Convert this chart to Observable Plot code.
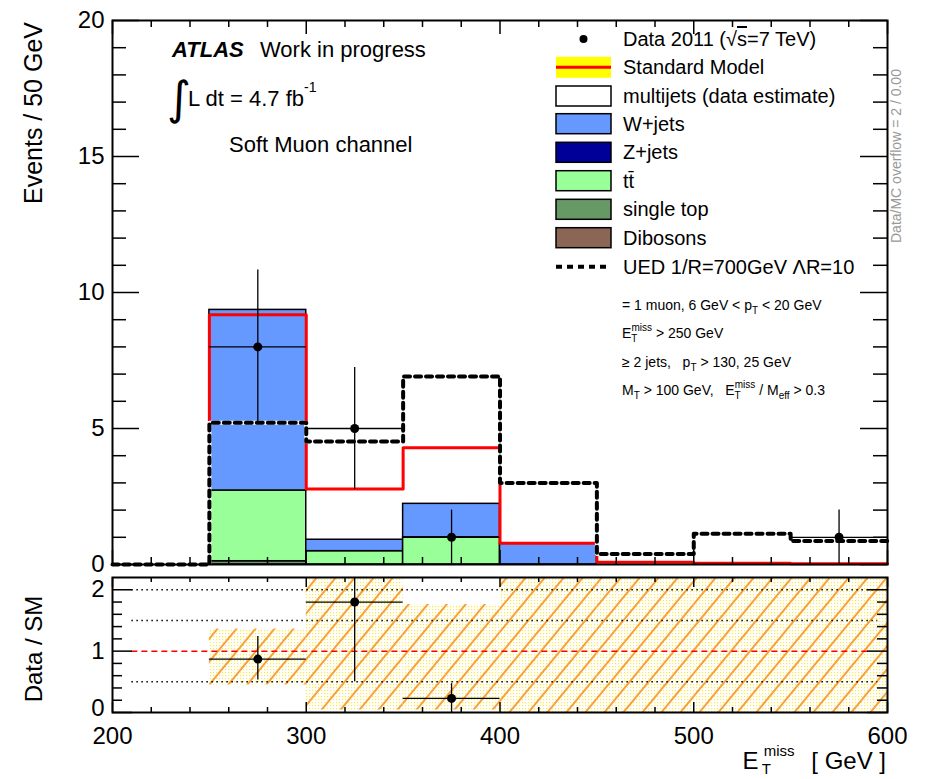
<!DOCTYPE html>
<html><head><meta charset="utf-8">
<script src="https://cdn.jsdelivr.net/npm/d3@7"></script>
<script src="https://cdn.jsdelivr.net/npm/@observablehq/plot@0.6"></script>
<style>
body{margin:0;background:#fff;}
#wrap{position:relative;width:926px;height:779px;font-family:"Liberation Sans",Arial,sans-serif;}
#wrap > svg{position:absolute;left:0;}
</style></head><body><div id="wrap"></div>
<script>
// ---------------- data ----------------
const binEdges   = [200, 250, 300, 350, 400, 450, 500, 550, 600];
const singleTop  = [0, 0.12, 0,    0,    0,    0,    0,    0];
const ttbar      = [0, 2.60, 0.49, 1.00, 0,    0,    0,    0];
const wjets      = [0, 6.64, 0.42, 1.23, 0.76, 0,    0,    0];
const smTotal    = [0, 9.18, 2.78, 4.29, 0.78, 0.08, 0.05, 0.03];
const uedSignal  = [0, 5.21, 4.52, 6.91, 3.00, 0.39, 1.13, 0.86];

const dataX      = [275, 325, 375, 575];
const dataY      = [8, 5, 1, 1];
const dataErr    = [2.83, 2.24, 1, 1];
const dataBinLo  = [250, 300, 350, 550];
const dataBinHi  = [300, 350, 400, 600];

const ratioX     = [275, 325, 375];
const ratioY     = [0.87, 1.80, 0.23];
const ratioLo    = [0.53, 0.50, 0.00];
const ratioHi    = [1.24, 3.10, 0.47];
const ratioBinLo = [250, 300, 350];
const ratioBinHi = [300, 350, 400];

const bandLo     = [null, 0.45, 0.04, 0.04, 0, 0, 0, 0];
const bandHi     = [null, 1.36, 2.60, 1.76, 2.6, 2.6, 2.6, 2.6];

const procNames  = ["single top", "tt\u0304", "W+jets"];
const procColors = ["#669966", "#99ff99", "#6699ff"];
const procValues = [singleTop, ttbar, wjets];

const xMajor = [200, 300, 400, 500, 600];
const xMinor = [220,240,260,280,320,340,360,380,420,440,460,480,520,540,560,580];
const yMajorMain = [0, 5, 10, 15, 20];
const yMinorMain = [1,2,3,4,6,7,8,9,11,12,13,14,16,17,18,19];
const yMajorRatio = [0, 1, 2];
const yMinorRatio = [0.2,0.4,0.6,0.8,1.2,1.4,1.6,1.8];
const ratioRefDotted = [0.5, 1.5, 2];

// ---------------- derived tables ----------------
const stackRows = [];
for (let i = 0; i < binEdges.length - 1; i++) {
  let base = 0;
  procNames.forEach((p, k) => {
    const v = procValues[k][i];
    if (v > 0) { stackRows.push({x1: binEdges[i], x2: binEdges[i+1], y1: base, y2: base + v, proc: p}); base += v; }
  });
}
function stepPts(vals, start) {
  const pts = [];
  for (let i = start; i < vals.length; i++) pts.push({x: binEdges[i], y: vals[i]});
  pts.push({x: binEdges[binEdges.length-1], y: vals[vals.length-1]});
  return pts;
}
const smPts = [{x: binEdges[1], y: 0}, ...stepPts(smTotal, 1)];
const uedPts = stepPts(uedSignal, 0);
const dataRows = dataX.map((x, i) => ({x, y: dataY[i], lo: dataY[i]-dataErr[i], hi: dataY[i]+dataErr[i], x1: dataBinLo[i], x2: dataBinHi[i]}));
const ratioRows = ratioX.map((x, i) => ({x, y: ratioY[i], lo: ratioLo[i], hi: ratioHi[i], x1: ratioBinLo[i], x2: ratioBinHi[i]}));
const bandRows = [];
for (let i = 0; i < binEdges.length - 1; i++) if (bandLo[i] !== null) bandRows.push({x1: binEdges[i], x2: binEdges[i+1], y1: bandLo[i], y2: bandHi[i]});

// ---------------- layout ----------------
const W = 926, ML = 112, MR = 39;
const IW = W - ML - MR; // 775
const font = "Liberation Sans, Arial, sans-serif";

function frameTicks(xMaj, xMin, yMaj, yMin, IH, lens) {
  const [yMajL, yMinL, xMajL, xMinL] = lens;
  const s = {stroke: "black", strokeWidth: 1.5};
  return [
    Plot.tickY(yMaj, {y: d => d, insetRight: IW - yMajL, ...s}),
    Plot.tickY(yMin, {y: d => d, insetRight: IW - yMinL, ...s}),
    Plot.tickY(yMaj, {y: d => d, insetLeft: IW - yMajL, ...s}),
    Plot.tickY(yMin, {y: d => d, insetLeft: IW - yMinL, ...s}),
    Plot.tickX(xMaj, {x: d => d, insetTop: IH - xMajL, ...s}),
    Plot.tickX(xMin, {x: d => d, insetTop: IH - xMinL, ...s}),
    Plot.tickX(xMaj, {x: d => d, insetBottom: IH - xMajL, ...s}),
    Plot.tickX(xMin, {x: d => d, insetBottom: IH - xMinL, ...s})
  ];
}

// ---------------- main panel ----------------
const H1 = 570, MT1 = 20, MB1 = 6;
const main = Plot.plot({
  width: W, height: H1, marginLeft: ML, marginRight: MR, marginTop: MT1, marginBottom: MB1,
  style: {fontFamily: font, fontSize: "24px", color: "black", background: "transparent", overflow: "visible"},
  x: {domain: [200, 600], axis: null},
  y: {domain: [0, 20], axis: null},
  color: {domain: procNames, range: procColors},
  marks: [
    Plot.rect(stackRows, {x1: "x1", x2: "x2", y1: "y1", y2: "y2", fill: "proc", stroke: "black", strokeWidth: 1.5}),
    Plot.line(smPts, {x: "x", y: "y", curve: "step-after", stroke: "#ff0000", strokeWidth: 3}),
    Plot.line(uedPts, {x: "x", y: "y", curve: "step-after", stroke: "white", strokeWidth: 4}),
    Plot.line(uedPts, {x: "x", y: "y", curve: "step-after", stroke: "black", strokeWidth: 4, strokeDasharray: "6,5"}),
    Plot.ruleX(dataRows, {x: "x", y1: "lo", y2: "hi", stroke: "black", strokeWidth: 1.3}),
    Plot.ruleY(dataRows, {y: "y", x1: "x1", x2: "x2", stroke: "black", strokeWidth: 1.3}),
    Plot.dot(dataRows, {x: "x", y: "y", r: 4.5, fill: "black"}),
    Plot.frame({stroke: "black", strokeWidth: 2}),
    ...frameTicks(xMajor, xMinor, yMajorMain, yMinorMain, H1 - MT1 - MB1, [27, 14, 14, 7]),
    Plot.axisY({ticks: yMajorMain, tickSize: 0, tickPadding: 8, fontSize: 24, label: null, tickFormat: d3.format("d")})
  ]
});
main.style.top = "0px";

// ---------------- ratio panel ----------------
const H2 = 209, MT2 = 7, MB2 = 67;
const ratio = Plot.plot({
  width: W, height: H2, marginLeft: ML, marginRight: MR, marginTop: MT2, marginBottom: MB2,
  style: {fontFamily: font, fontSize: "24px", color: "black", background: "transparent", overflow: "visible"},
  x: {domain: [200, 600], axis: null},
  y: {domain: [0, 2.2], axis: null},
  marks: [
    Plot.rect(bandRows, {x1: "x1", x2: "x2", y1: "y1", y2: "y2", fill: "url(#dotsPat)", clip: true}),
    Plot.rect(bandRows, {x1: "x1", x2: "x2", y1: "y1", y2: "y2", fill: "url(#hatchPat)", clip: true}),
    Plot.ruleY(ratioRefDotted, {y: d => d, x1: 210, x2: 595, stroke: "black", strokeWidth: 1.6, strokeDasharray: "1.5,3.5"}),
    Plot.ruleY([1], {y: d => d, x1: 210, x2: 590, stroke: "#ff0000", strokeWidth: 1.5, strokeDasharray: "6,4"}),
    Plot.ruleX(ratioRows, {x: "x", y1: "lo", y2: "hi", stroke: "black", strokeWidth: 1.3, clip: true}),
    Plot.ruleY(ratioRows, {y: "y", x1: "x1", x2: "x2", stroke: "black", strokeWidth: 1.3}),
    Plot.dot(ratioRows, {x: "x", y: "y", r: 4.5, fill: "black"}),
    Plot.frame({stroke: "black", strokeWidth: 2}),
    ...frameTicks(xMajor, xMinor, yMajorRatio, yMinorRatio, H2 - MT2 - MB2, [20, 10, 10, 5]),
    Plot.axisY({ticks: yMajorRatio.slice(1), tickSize: 0, tickPadding: 8, fontSize: 24, label: null, tickFormat: d3.format("d")}),
    Plot.axisY({ticks: yMajorRatio.slice(0, 1), tickSize: 0, tickPadding: 8, fontSize: 24, label: null, tickFormat: d3.format("d"), dy: -4}),
    Plot.axisX({ticks: xMajor, tickSize: 0, tickPadding: 14, fontSize: 24, label: null, tickFormat: d3.format("d")})
  ]
});
ratio.style.top = (H1) + "px";
ratio.insertAdjacentHTML("afterbegin", `<defs>
  <pattern id="dotsPat" patternUnits="userSpaceOnUse" width="3" height="3">
    <rect width="3" height="3" fill="#ffffff"/><rect width="1.2" height="1.2" fill="#ffe94a"/>
  </pattern>
  <pattern id="hatchPat" patternUnits="userSpaceOnUse" width="19" height="23">
    <path d="M0,23L19,0M-2,2L2,-2M17,25L21,21" stroke="#f7a03c" stroke-width="2" fill="none"/>
  </pattern></defs>`);

// ---------------- annotations & legend ----------------
const ann = d3.create("svg").attr("width", W).attr("height", 779)
  .style("top", "0px").style("pointer-events", "none")
  .attr("font-family", font);
const legendY = [39, 67.3, 96, 123.7, 152.3, 180.7, 209.3, 237.7, 266.7];
const legendLabels = ["Data 2011 (", "Standard Model", "multijets (data estimate)", "W+jets", "Z+jets", "tt\u0304", "single top", "Dibosons", "UED 1/R=700GeV \u039BR=10"];
const boxFill = [null, null, "#ffffff", "#6699ff", "#000099", "#99ff99", "#669966", "#8b6655", null];
const bx = 556, bw = 55, bh = 20, tx = 623;
legendY.forEach((cy, i) => {
  if (boxFill[i]) ann.append("rect").attr("x", bx).attr("y", cy - bh/2).attr("width", bw).attr("height", bh)
    .attr("fill", boxFill[i]).attr("stroke", "black").attr("stroke-width", 1.5);
  const t = ann.append("text").attr("x", tx).attr("y", cy + 7).attr("font-size", 20).text(legendLabels[i]);
  if (i === 0) {
    t.append("tspan").text("\u221A");
    t.append("tspan").style("text-decoration", "overline").text("s");
    t.append("tspan").text("=7 TeV)");
  }
});
ann.append("circle").attr("cx", 583.5).attr("cy", legendY[0]).attr("r", 4).attr("fill", "black");
ann.append("rect").attr("x", bx).attr("y", legendY[1] - 10.5).attr("width", bw).attr("height", 21).attr("fill", "#ffff00");
ann.append("line").attr("x1", bx).attr("x2", bx + bw).attr("y1", legendY[1]).attr("y2", legendY[1]).attr("stroke", "#ff0000").attr("stroke-width", 3);
ann.append("line").attr("x1", bx).attr("x2", bx + bw).attr("y1", legendY[8]).attr("y2", legendY[8]).attr("stroke", "black").attr("stroke-width", 4).attr("stroke-dasharray", "6,5");

const sp3 = "\u00A0\u00A0\u00A0";
ann.node().insertAdjacentHTML("beforeend", `
<g>
<text x="172" y="57" font-size="22"><tspan font-weight="bold" font-style="italic">ATLAS</tspan><tspan x="260">Work in progress</tspan></text>
<text x="167" y="114" font-size="46" font-family="DejaVu Sans">\u222B</text>
<text x="188" y="106" font-size="22">L dt = 4.7 fb<tspan font-size="14" dy="-14">-1</tspan></text>
<text x="229" y="152" font-size="22">Soft Muon channel</text>
<g font-size="14">
<text x="622" y="310">= 1 muon, 6 GeV &lt; p<tspan font-size="10" dy="4">T</tspan><tspan dy="-4"> &lt; 20 GeV</tspan></text>
<text x="622" y="338">E<tspan font-size="10" dy="4">T</tspan><tspan font-size="10" dx="-6" dy="-11">miss</tspan><tspan dy="7"> &gt; 250 GeV</tspan></text>
<text x="622" y="367">\u2265 2 jets,${sp3}p<tspan font-size="10" dy="4">T</tspan><tspan dy="-4"> &gt; 130, 25 GeV</tspan></text>
<text x="622" y="395">M<tspan font-size="10" dy="4">T</tspan><tspan dy="-4"> &gt; 100 GeV,${sp3}E</tspan><tspan font-size="10" dy="4">T</tspan><tspan font-size="10" dx="-6" dy="-11">miss</tspan><tspan dy="7"> / M</tspan><tspan font-size="10" dy="4">eff</tspan><tspan dy="-4"> &gt; 0.3</tspan></text>
</g>
<text transform="translate(901,243) rotate(-90)" font-size="14" fill="#999999">Data/MC overflow = 2 / 0.00</text>
<text transform="translate(42,22) rotate(-90)" font-size="25" text-anchor="end">Events / 50 GeV</text>
<text transform="translate(42,649) rotate(-90)" font-size="24" text-anchor="middle">Data / SM</text>
<text x="886" y="769" font-size="24" text-anchor="end">E<tspan font-size="15" dx="3" dy="5">T</tspan><tspan font-size="15" dx="-7" dy="-18">miss</tspan><tspan dx="10" dy="13"> [ GeV ]</tspan></text>
</g>`);

const wrap = document.getElementById("wrap");
wrap.appendChild(main);
wrap.appendChild(ratio);
wrap.appendChild(ann.node());
</script></body></html>
